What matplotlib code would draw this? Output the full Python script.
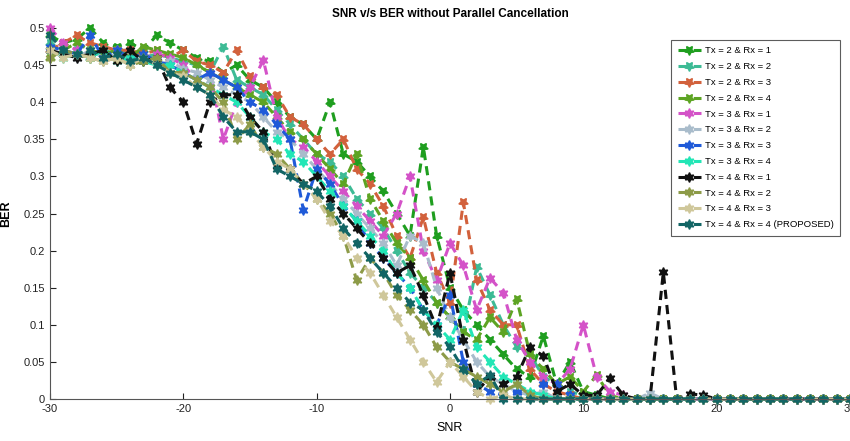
"""SNR v/s BER without Parallel Cancellation"""
import numpy as np, matplotlib
matplotlib.use('Agg')
import matplotlib.pyplot as plt
plt.rcParams.update({'font.family': ['Liberation Sans', 'DejaVu Sans'], 'font.size': 8,
                     'axes.linewidth': 0.8, 'axes.unicode_minus': False})

snr = np.arange(-30, 31)

tx2rx1 = [.49,.48,.485,.50,.48,.475,.48,.47,.49,.48,.47,.46,.455,.44,.45,.43,.42,.40,.38,.37,.35,.40,.33,.32,.30,.28,.25,.22,.34,.22,
          .15,.12,.10,.08,.06,.04,.03,.085,.02,.05,.01,.005,0,0,0,0,0,0,0,0,0,0,0,0,0,0,0,0,0,0,0]
tx2rx2 = [.48,.465,.47,.46,.47,.465,.47,.46,.465,.46,.455,.45,.44,.475,.43,.42,.41,.39,.37,.35,.33,.32,.30,.27,.25,.23,.20,.17,.15,.13,
          .11,.09,.178,.14,.10,.07,.06,.03,.02,.01,.005,0,0,0,0,0,0,0,0,0,0,0,0,0,0,0,0,0,0,0,0]
tx2rx3 = [.47,.48,.49,.48,.475,.47,.47,.465,.47,.46,.47,.455,.45,.44,.47,.435,.42,.41,.38,.37,.35,.33,.35,.31,.29,.26,.22,.19,.245,.17,
          .13,.265,.16,.12,.10,.10,.04,.02,.01,.005,0,0,0,0,0,0,0,0,0,0,0,0,0,0,0,0,0,0,0,0,0]
tx2rx4 = [.46,.47,.48,.47,.465,.47,.46,.475,.47,.465,.46,.45,.44,.43,.42,.41,.40,.38,.36,.35,.33,.31,.29,.33,.27,.24,.21,.19,.16,.13,
          .11,.09,.08,.11,.09,.135,.06,.04,.02,.03,.01,.032,.005,0,0,0,0,0,0,0,0,0,0,0,0,0,0,0,0,0,0]
tx3rx1 = [.50,.48,.47,.465,.46,.47,.455,.46,.465,.46,.45,.43,.44,.35,.40,.42,.457,.38,.35,.34,.32,.30,.28,.26,.24,.22,.25,.30,.20,.16,
          .21,.18,.12,.163,.143,.08,.05,.03,.02,.04,.10,.03,.01,.005,0,0,0,0,0,0,0,0,0,0,0,0,0,0,0,0,0]
tx3rx2 = [.47,.465,.46,.47,.46,.465,.455,.46,.45,.455,.445,.44,.43,.42,.41,.40,.38,.36,.35,.33,.31,.29,.27,.25,.23,.21,.18,.22,.21,.15,
          .11,.08,.05,.03,.02,.01,.005,.01,0,0,0,0,0,0,0,.008,0,0,0,0,0,0,0,0,0,0,0,0,0,0,0]
tx3rx3 = [.475,.47,.465,.49,.46,.47,.46,.465,.455,.45,.44,.43,.44,.43,.42,.40,.39,.37,.35,.255,.31,.29,.26,.24,.21,.19,.17,.15,.12,.10,
          .14,.05,.02,.01,.005,.01,.005,.02,.02,.005,0,0,0,0,0,0,0,0,0,0,0,0,0,0,0,0,0,0,0,0,0]
tx3rx4 = [.47,.46,.465,.46,.47,.455,.46,.455,.45,.45,.44,.43,.42,.41,.40,.38,.36,.35,.33,.32,.30,.28,.26,.24,.22,.20,.17,.15,.12,.10,
          .08,.12,.07,.05,.03,.02,.01,.005,0,0,0,0,0,0,0,0,0,0,0,0,0,0,0,0,0,0,0,0,0,0,0]
tx4rx1 = [.47,.465,.46,.465,.47,.455,.47,.455,.46,.42,.40,.344,.40,.41,.41,.38,.36,.314,.31,.29,.30,.27,.25,.23,.21,.19,.17,.18,.14,.096,
          .17,.08,.01,.03,.02,.03,.07,.058,.01,.02,.005,.005,.028,.005,0,0,.171,0,.007,.005,0,0,0,0,0,0,0,0,0,0,0]
tx4rx2 = [.46,.47,.465,.46,.455,.46,.45,.455,.46,.44,.44,.43,.42,.40,.35,.37,.34,.33,.31,.29,.27,.25,.22,.16,.19,.17,.14,.12,.10,.07,
          .05,.04,.03,.02,.01,.02,.005,0,0,0,0,0,0,0,0,0,0,0,0,0,0,0,0,0,0,0,0,0,0,0,0]
tx4rx3 = [.47,.46,.465,.46,.455,.46,.45,.46,.45,.44,.435,.42,.41,.39,.38,.36,.34,.32,.31,.29,.27,.24,.22,.19,.17,.14,.11,.08,.05,.023,
          .05,.03,.01,0,.005,0,0,0,0,0,0,0,0,0,0,0,0,0,0,0,0,0,0,0,0,0,0,0,0,0,0]
tx4rx4 = [.49,.47,.465,.47,.46,.465,.455,.46,.45,.44,.43,.42,.41,.38,.36,.36,.35,.31,.30,.29,.28,.26,.23,.21,.19,.17,.15,.13,.12,.09,
          .07,.04,.02,.032,0,0,0,0,0,0,0,0,0,0,0,0,0,0,0,0,0,0,0,0,0,0,0,0,0,0,0]

series = [tx2rx1, tx2rx2, tx2rx3, tx2rx4, tx3rx1, tx3rx2, tx3rx3, tx3rx4, tx4rx1, tx4rx2, tx4rx3, tx4rx4]
labels = ['Tx = 2 & Rx = 1', 'Tx = 2 & Rx = 2', 'Tx = 2 & Rx = 3', 'Tx = 2 & Rx = 4',
          'Tx = 3 & Rx = 1', 'Tx = 3 & Rx = 2', 'Tx = 3 & Rx = 3', 'Tx = 3 & Rx = 4',
          'Tx = 4 & Rx = 1', 'Tx = 4 & Rx = 2', 'Tx = 4 & Rx = 3', 'Tx = 4 & Rx = 4 (PROPOSED)']
colors = ['#1f9e1f', '#3dbb95', '#d2613c', '#5da423', '#d452c8', '#a9bccb',
          '#1f5ad8', '#22e6b6', '#111111', '#8d9b48', '#cfc79a', '#126565']

fig = plt.figure(figsize=(8.5, 4.41), dpi=100, facecolor='white')
ax = fig.add_axes([50/850, 42/441, 800/850, 371/441])
for i, (y, lab, c) in enumerate(zip(series, labels, colors)):
    mk = (5, 1, 180) if i < 4 else (6, 1, 0)
    ax.plot(snr, y, linestyle='--', dashes=(3, 2), color=c, linewidth=2.2, marker=mk,
            markersize=7, markeredgecolor=c, markerfacecolor=c, label=lab, clip_on=False)

ax.set_xlim(-30, 30); ax.set_ylim(0, 0.5)
ax.set_xticks(range(-30, 31, 10))
ax.set_yticks(np.arange(0, 0.501, 0.05))
ax.set_yticklabels(['0', '0.05', '0.1', '0.15', '0.2', '0.25', '0.3', '0.35', '0.4', '0.45', '0.5'])
ax.tick_params(direction='in', length=4, width=0.8, labelsize=8, colors='#222222')
for s in ['top', 'right']:
    ax.spines[s].set_visible(False)
for s in ['left', 'bottom']:
    ax.spines[s].set_color('#555555')
ax.set_xlabel('SNR', fontsize=9, labelpad=6)
ax.set_ylabel('BER', fontsize=9, fontweight='bold', labelpad=8)
ax.set_title('SNR v/s BER without Parallel Cancellation', fontsize=8.5, fontweight='bold', pad=8)

leg = ax.legend(loc='upper right', bbox_to_anchor=(0.9875, 0.968), fontsize=6.8, frameon=True,
                fancybox=False, edgecolor='#333333', handlelength=2.4, labelspacing=0.72,
                borderpad=0.7, handletextpad=0.4, borderaxespad=0)
leg.get_frame().set_linewidth(0.8)

fig.savefig('out.png', dpi=100, facecolor='white')
